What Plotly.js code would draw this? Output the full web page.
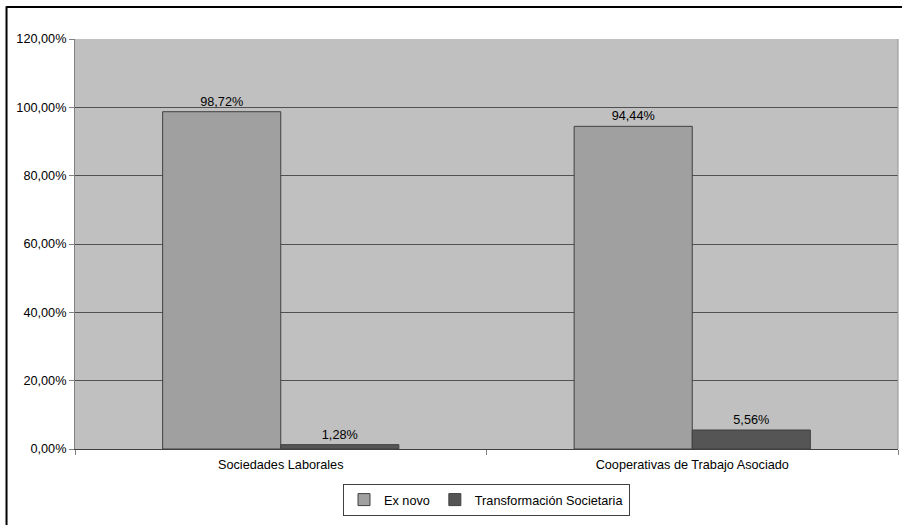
<!DOCTYPE html>
<html>
<head>
<meta charset="utf-8">
<script src="https://cdn.plot.ly/plotly-3.0.1.min.js"></script>
<style>
html,body{margin:0;padding:0;background:#fff;}
#chart{width:902px;height:525px;}
</style>
</head>
<body>
<div id="chart"></div>
<script>
const categories = ["Sociedades Laborales", "Cooperativas de Trabajo Asociado"];
const exNovo = [0.9872, 0.9444];
const transformacion = [0.0128, 0.0556];
const seriesNames = ["Ex novo", "Transformación Societaria"];
const yTickVals = [0, 0.2, 0.4, 0.6, 0.8, 1.0, 1.2];

const font = {family: "Liberation Sans, Arial, sans-serif", size: 12.7, color: "#000"};

const traces = [
  {type: "bar", name: seriesNames[0], x: categories, y: exNovo,
   marker: {color: "#a0a0a0", line: {color: "#404040", width: 1}},
   texttemplate: "%{y:.2%}", textposition: "outside", cliponaxis: false,
   textfont: font},
  {type: "bar", name: seriesNames[1], x: categories, y: transformacion,
   marker: {color: "#555555", line: {color: "#404040", width: 1}},
   texttemplate: "%{y:.2%}", textposition: "outside", cliponaxis: false,
   textfont: font}
];

const layout = {
  width: 902, height: 525,
  margin: {l: 75, r: 4, t: 39, b: 76},
  paper_bgcolor: "#ffffff",
  plot_bgcolor: "#c0c0c0",
  separators: ",.",
  font: font,
  barmode: "group",
  bargap: 0.426,
  bargroupgap: 0,
  showlegend: true,
  legend: {orientation: "h", x: 0.5, xanchor: "center", y: -0.085, yanchor: "top",
           bordercolor: "#404040", borderwidth: 1, bgcolor: "#fff",
           font: font, itemwidth: 30, traceorder: "normal"},
  xaxis: {type: "category", showgrid: false, ticks: "outside", tickson: "boundaries",
          ticklen: 5, tickcolor: "#808080", showline: true, linecolor: "#404040",
          linewidth: 1, mirror: false, tickfont: font, zeroline: false,
          ticklabelstandoff: 4},
  yaxis: {range: [0, 1.2], tickvals: yTickVals, tickformat: ".2%", showgrid: true,
          gridcolor: "#505050", gridwidth: 1, ticks: "outside", ticklen: 5,
          tickcolor: "#808080", showline: true, linecolor: "#808080", linewidth: 1,
          zeroline: false, tickfont: font},
  shapes: [
    {type: "line", xref: "paper", yref: "paper", x0: 1, x1: 1, y0: 0, y1: 1,
     line: {color: "#909090", width: 1}},
    {type: "line", xref: "paper", yref: "paper", x0: -0.0832, x1: -0.0832, y0: 1.08, y1: -0.2,
     line: {color: "#000", width: 2}},
    {type: "line", xref: "paper", yref: "paper", x0: -0.0832, x1: 1.01, y0: 1.078, y1: 1.078,
     line: {color: "#000", width: 2}}
  ]
};

Plotly.newPlot("chart", traces, layout, {displayModeBar: false, staticPlot: true});
</script>
</body>
</html>
